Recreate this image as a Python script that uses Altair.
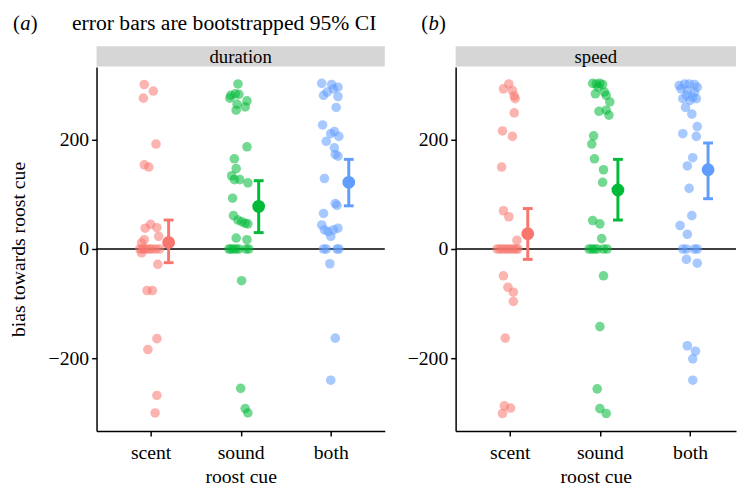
import altair as alt
import pandas as pd

CUES = ["scent", "sound", "both"]
COLORS = ["#F8766D", "#00BA38", "#619CFF"]
PANELS = ["duration", "speed"]
PANEL_TAGS = ["a", "b"]
NOTE = "error bars are bootstrapped 95% CI"
Y_TICKS = [-200, 0, 200]

# ---- individual trials: value and horizontal jitter ----
dur_scent = [301, 289, 276, 192, 154, 150, 45, 38, 39, 23, 17, 11, 0, 0, 0, 0, 0, 0, 0, 0,
             -7, -28, -76, -76, -164, -184, -268, -300]
dur_scent_j = [-0.07, 0.03, -0.08, 0.06, -0.07, -0.02, 0.0, -0.06, 0.07, 0.09, -0.07, -0.10,
               -0.12, -0.09, -0.07, -0.04, -0.01, 0.02, 0.06, 0.10, -0.10, 0.08, -0.04, 0.02,
               0.07, -0.03, 0.07, 0.05]
dur_sound = [302, 281, 284, 283, 276, 271, 265, 260, 254, 187, 165, 147, 134, 127, 127, 121,
             93, 61, 53, 50, 47, 46, 20, 17, 0, 0, 0, 0, 0, 0, 0, -58, -255, -292, -300]
dur_sound_j = [-0.03, -0.11, -0.06, -0.02, -0.12, 0.07, -0.04, 0.05, -0.05, 0.07, -0.07, -0.05,
               -0.10, -0.07, -0.01, 0.08, -0.09, -0.08, -0.03, 0.01, 0.05, 0.08, -0.05, 0.07,
               -0.13, -0.11, -0.08, -0.05, -0.02, 0.06, 0.09, 0.01, 0.0, 0.05, 0.08]
dur_both = [303, 301, 296, 287, 281, 293, 279, 259, 227, 215, 211, 206, 197, 185, 173, 170,
            129, 83, 80, 65, 44, 35, 32, 35, 38, 23, 0, 0, 0, 0, -27, -163, -240]
dur_both_j = [-0.10, 0.01, 0.08, -0.04, -0.08, 0.03, 0.08, 0.06, -0.09, 0.04, 0.0, 0.09,
              -0.05, 0.04, 0.05, 0.08, -0.07, 0.05, 0.07, -0.08, -0.10, -0.07, -0.03, 0.03,
              0.08, 0.0, -0.08, -0.05, 0.07, 0.09, -0.01, 0.05, 0.0]

spd_scent = [302, 293, 290, 280, 275, 249, 216, 206, 150, 70, 59, 16, 0, 0, 0, 0, 0, 0, 0, 0, 0,
             -49, -70, -79, -96, -163, -287, -291, -301]
spd_scent_j = [-0.01, -0.07, 0.03, 0.05, 0.06, 0.05, -0.08, 0.03, -0.09, -0.07, -0.01, 0.08,
               -0.14, -0.11, -0.08, -0.05, -0.02, 0.01, 0.04, 0.07, 0.09, -0.07, -0.02, 0.04,
               0.04, -0.05, -0.06, 0.01, -0.08]
spd_sound = [303, 302, 303, 301, 296, 284, 287, 281, 269, 252, 254, 245, 207, 192, 165, 145, 122,
             52, 46, 19, 0, 0, 0, 0, 0, 0, -49, -142, -256, -292, -301]
spd_sound_j = [-0.08, -0.04, 0.0, 0.03, -0.02, -0.05, 0.05, 0.07, 0.11, -0.01, 0.07, 0.10,
               -0.07, -0.09, -0.06, 0.04, 0.03, -0.08, 0.0, 0.02, -0.12, -0.09, -0.06, -0.03,
               0.04, 0.08, 0.04, 0.0, -0.03, 0.0, 0.07]
spd_both = [299, 302, 302, 301, 296, 293, 290, 287, 281, 278, 275, 272, 275, 259, 247, 224, 211,
            206, 167, 152, 111, 61, 43, 27, 0, 0, 0, 0, -19, -26, -177, -187, -201, -240]
spd_both_j = [-0.12, -0.06, -0.01, 0.05, 0.08, -0.10, -0.03, 0.05, -0.04, 0.03, -0.08, 0.0,
              0.07, -0.05, 0.02, 0.08, -0.08, 0.07, 0.03, -0.03, -0.01, 0.02, -0.11, -0.03,
              -0.08, -0.04, 0.05, 0.08, -0.04, 0.08, -0.03, 0.06, 0.03, 0.03]

# ---- means and bootstrapped 95% CI ----
dur_mean = [12, 78, 122]
dur_lo = [-25, 30, 79]
dur_hi = [53, 125, 164]
spd_mean = [28, 108, 145]
spd_lo = [-19, 53, 92]
spd_hi = [74, 164, 194]

FONT = "Liberation Serif"
DODGE = 0.2
H = 370
WIDTHS = [293, 285]
XMAX = [3.6, 3.51]


def points_frame(vals, jits):
    rows = []
    for cue, v, j in zip(CUES, vals, jits):
        for a, b in zip(v, j):
            rows.append({"cue": cue, "bias": a, "x": CUES.index(cue) + 1 + b})
    return pd.DataFrame(rows)


def summary_frame(m, lo, hi):
    return pd.DataFrame({"cue": CUES, "mean": m, "lo": lo, "hi": hi,
                         "x": [i + 1 + DODGE for i in range(len(CUES))]})


label_expr = " : ".join(f"datum.value == {i+1} ? '{c}'" for i, c in enumerate(CUES[:-1])) + f" : '{CUES[-1]}'"
color = alt.Color("cue:N", scale=alt.Scale(domain=CUES, range=COLORS), legend=None)


def panel(idx, pts, summ):
    W = WIDTHS[idx]
    xs = alt.Scale(domain=[0.4, XMAX[idx]], nice=False, zero=False)
    ys = alt.Scale(domain=[-333, 333], nice=False, zero=False)
    xax = alt.Axis(values=[1, 2, 3], labelExpr=label_expr, title="roost cue")
    yax = alt.Axis(values=Y_TICKS, title="bias towards roost cue" if idx == 0 else None,
                   titlePadding=20)
    X = alt.X("x:Q", scale=xs, axis=xax)

    zero = alt.Chart(pd.DataFrame({"v": [0]})).mark_rule(color="black", strokeWidth=1.6).encode(
        y=alt.Y("v:Q", scale=ys, axis=yax))
    pts_layer = alt.Chart(pts).mark_circle(size=95, opacity=0.55).encode(
        x=X, y=alt.Y("bias:Q", scale=ys, axis=yax), color=color)
    err = alt.Chart(summ).mark_rule(strokeWidth=3).encode(
        x=X, y=alt.Y("lo:Q", scale=ys, axis=yax), y2="hi:Q", color=color)
    cap_lo = alt.Chart(summ).mark_tick(orient="horizontal", size=10, thickness=3, opacity=1).encode(
        x=X, y=alt.Y("lo:Q", scale=ys, axis=yax), color=color)
    cap_hi = alt.Chart(summ).mark_tick(orient="horizontal", size=10, thickness=3, opacity=1).encode(
        x=X, y=alt.Y("hi:Q", scale=ys, axis=yax), color=color)
    mean = alt.Chart(summ).mark_circle(size=170, opacity=1).encode(
        x=X, y=alt.Y("mean:Q", scale=ys, axis=yax), color=color)

    strip_df = pd.DataFrame({"label": [PANELS[idx]]})
    strip = alt.Chart(strip_df).mark_rect(color="#d6d6d6").encode(
        x=alt.value(0), x2=alt.value(W), y=alt.value(-21), y2=alt.value(-0.5))
    strip_txt = alt.Chart(strip_df).mark_text(font=FONT, fontSize=19, color="black").encode(
        x=alt.value(W / 2), y=alt.value(-10), text="label:N")

    tag_df = pd.DataFrame({"o": ["("], "t": [PANEL_TAGS[idx]], "c": [")"]})
    tx = -85 if idx == 0 else -35
    tag_o = alt.Chart(tag_df).mark_text(font=FONT, fontSize=21, align="left", baseline="top",
                                        color="black").encode(
        x=alt.value(tx), y=alt.value(-55), text="o:N")
    tag_t = alt.Chart(tag_df).mark_text(font=FONT, fontSize=21, align="left", baseline="top",
                                        fontStyle="italic", color="black").encode(
        x=alt.value(tx + 7.5), y=alt.value(-55), text="t:N")
    tag_c = alt.Chart(tag_df).mark_text(font=FONT, fontSize=21, align="left", baseline="top",
                                        color="black").encode(
        x=alt.value(tx + 18), y=alt.value(-55), text="c:N")
    layers = [zero, pts_layer, err, cap_lo, cap_hi, mean, strip, strip_txt, tag_o, tag_t, tag_c]
    if idx == 0:
        note = alt.Chart(pd.DataFrame({"n": [NOTE]})).mark_text(
            font=FONT, fontSize=22, align="left", baseline="top", color="black").encode(
            x=alt.value(-25), y=alt.value(-55), text="n:N")
        layers.append(note)
    return alt.layer(*layers).properties(width=W, height=H)


pa = panel(0, points_frame([dur_scent, dur_sound, dur_both], [dur_scent_j, dur_sound_j, dur_both_j]),
           summary_frame(dur_mean, dur_lo, dur_hi))
pb = panel(1, points_frame([spd_scent, spd_sound, spd_both], [spd_scent_j, spd_sound_j, spd_both_j]),
           summary_frame(spd_mean, spd_lo, spd_hi))

chart = alt.hconcat(pa, pb, spacing=72, bounds="flush").properties(
    padding={"left": 0, "top": 0, "right": 0, "bottom": 0}
).configure_view(stroke=None).configure_axis(
    labelFont=FONT, titleFont=FONT, labelFontSize=20, titleFontSize=20,
    titleFontWeight="normal", labelColor="black", titleColor="black",
    domainColor="black", tickColor="black", domainWidth=1.5, tickWidth=1.5,
    tickSize=5, labelPadding=3, grid=False
).configure_axisX(labelPadding=7, titlePadding=4)

chart.save("out.html", embed_options={"renderer": "svg", "actions": False})
